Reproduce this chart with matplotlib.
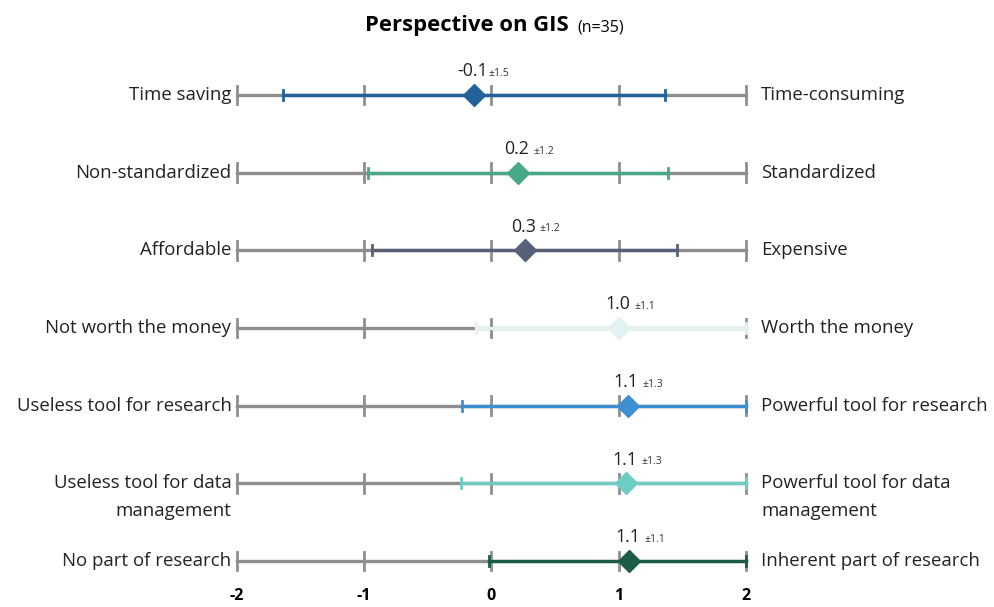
import numpy as np
import matplotlib
matplotlib.use("Agg")
import matplotlib.pyplot as plt

plt.rcParams['font.family'] = ['Open Sans', 'DejaVu Sans']

left_labels = ["Time saving", "Non-standardized", "Affordable", "Not worth the money",
               "Useless tool for research", "Useless tool for data\nmanagement",
               "No part of research"]
right_labels = ["Time-consuming", "Standardized", "Expensive", "Worth the money",
                "Powerful tool for research", "Powerful tool for data\nmanagement",
                "Inherent part of research"]
means = [-0.14, 0.21, 0.26, 1.0, 1.07, 1.06, 1.08]
sds = [1.5, 1.18, 1.2, 1.12, 1.3, 1.3, 1.1]
colors = ["#22619a", "#47a987", "#566079", "#e2f2f2", "#3d8fd1", "#6dcdc4", "#1c5b44"]
scale_ticks = [-2, -1, 0, 1, 2]

fig = plt.figure(figsize=(9.95, 6.07), dpi=100)
ax = fig.add_axes([237 / 995, 1 - 584.3 / 607, 509 / 995, (584.3 - 48.4) / 607])
ax.set_xlim(-2, 2)
ax.set_ylim(6.3, -0.6)

grey = "#8e8e8e"
for i in range(len(means)):
    y = i
    # grey scale line with ticks
    ax.plot([-2, 2], [y, y], color=grey, lw=2.4, clip_on=False, zorder=1)
    for t in scale_ticks:
        ax.plot([t, t], [y - 0.12, y + 0.12], color=grey, lw=2.0, clip_on=False, zorder=1)
    lo = max(means[i] - sds[i], -2)
    hi = min(means[i] + sds[i], 2)
    ax.plot([lo, hi], [y, y], color=colors[i], lw=2.4, clip_on=False, zorder=2)
    for e in (lo, hi):
        ax.plot([e, e], [y - 0.065, y + 0.065], color=colors[i], lw=2.0, clip_on=False, zorder=2)
    ax.plot(means[i], y, marker="D", ms=11, color=colors[i], mec=colors[i], clip_on=False, zorder=3)

    ax.annotate("%.1f" % means[i], (means[i], y), xytext=(-1, 10.5), textcoords="offset points",
                ha="center", va="bottom", fontsize=12.8, color="#222222")
    ax.annotate("\u00b1%.1f" % sds[i], (means[i], y), xytext=(11, 11.5), textcoords="offset points",
                ha="left", va="bottom", fontsize=7.5, color="#333333")

    two = "\n" in left_labels[i]
    ax.annotate(left_labels[i], (-2, y), xytext=(-4, -9.7 if two else 0), textcoords="offset points",
                ha="right", va="center", fontsize=13.4, color="#222222", linespacing=1.72)
    ax.annotate(right_labels[i], (2, y), xytext=(11, -9.7 if two else 0), textcoords="offset points",
                ha="left", va="center", fontsize=13.4, color="#222222", linespacing=1.72)

ax.set_xticks(scale_ticks)
ax.set_xticklabels([str(t) for t in scale_ticks], fontweight="bold", fontsize=11.5)
ax.tick_params(axis="x", length=0, pad=3)
ax.set_yticks([])
for s in ax.spines.values():
    s.set_visible(False)

fig.text(569 / 995, 1 - 25 / 607, "Perspective on GIS", ha="right", va="center",
         fontsize=15.8, fontweight="bold")
fig.text(577 / 995, 1 - 27 / 607, "(n=35)", ha="left", va="center", fontsize=11.5)

fig.savefig("out.png", dpi=100)
